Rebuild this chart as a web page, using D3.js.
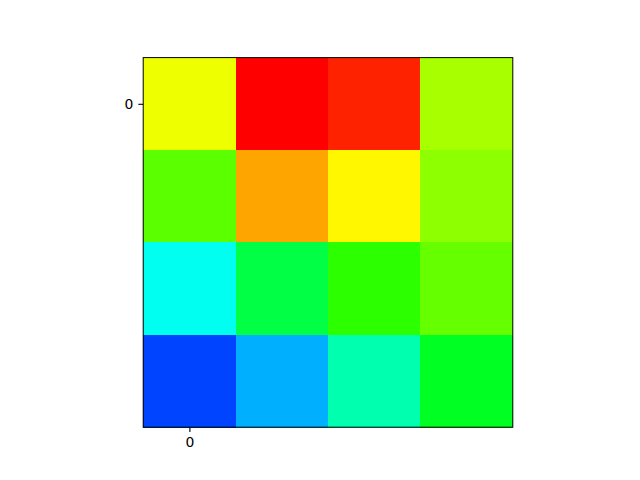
<!DOCTYPE html>
<html><head><meta charset="utf-8">
<script src="https://cdn.jsdelivr.net/npm/d3@7"></script>
<style>body{margin:0;background:#fff}</style>
</head><body>
<script>
// Cell values (rows top to bottom), mapped through a gist_rainbow-like colormap on [0,1]
const rows = [0, 1, 2, 3];
const cols = [0, 1, 2, 3];
const values = [
  [0.227, 0.030, 0.055, 0.278],
  [0.333, 0.150, 0.209, 0.298],
  [0.575, 0.450, 0.368, 0.326],
  [0.721, 0.643, 0.528, 0.425]
];
const xTicks = [0];
const yTicks = [0];
const cmapStops = [0.000, 0.030, 0.215, 0.400, 0.586, 0.770, 0.954, 1.000];
const cmapColors = ["rgb(255,0,41)", "rgb(255,0,0)", "rgb(255,255,0)", "rgb(0,255,0)",
                    "rgb(0,255,255)", "rgb(0,0,255)", "rgb(255,0,255)", "rgb(255,0,191)"];

const W = 640, H = 480;
const plotH = 369.6, plotW = 369.6;
const mLeft = (80 + 576) / 2 - plotW / 2, mTop = 57.6;

const svg = d3.select("body").append("svg").attr("width", W).attr("height", H)
  .style("font-family", "DejaVu Sans");

const x = d3.scaleBand().domain(cols).range([mLeft, mLeft + plotW]).padding(0);
const y = d3.scaleBand().domain(rows).range([mTop, mTop + plotH]).padding(0);
const color = d3.scaleLinear().domain(cmapStops).range(cmapColors).interpolate(d3.interpolateRgb).clamp(true);

const cells = [];
values.forEach((r, i) => r.forEach((v, j) => cells.push({ i, j, v })));

svg.append("g").selectAll("rect").data(cells).join("rect")
  .attr("x", d => x(d.j)).attr("y", d => y(d.i))
  .attr("width", x.bandwidth() + 0.5).attr("height", y.bandwidth() + 0.5)
  .attr("fill", d => color(d.v))
  .attr("shape-rendering", "crispEdges");

svg.append("rect").attr("x", mLeft).attr("y", mTop).attr("width", plotW).attr("height", plotH)
  .attr("fill", "none").attr("stroke", "#000").attr("stroke-width", 1);

const xAxis = d3.axisBottom(d3.scaleLinear().domain([-0.5, 3.5]).range([mLeft, mLeft + plotW]))
  .tickValues(xTicks).tickSize(4.9).tickPadding(4.9).tickFormat(d3.format("d"));
const gx = svg.append("g").attr("transform", `translate(0,${mTop + plotH})`).call(xAxis);
gx.select(".domain").remove();

const yAxis = d3.axisLeft(d3.scaleLinear().domain([-0.5, 3.5]).range([mTop, mTop + plotH]))
  .tickValues(yTicks).tickSize(4.9).tickPadding(4.9).tickFormat(d3.format("d"));
const gy = svg.append("g").attr("transform", `translate(${mLeft},0)`).call(yAxis);
gy.select(".domain").remove();

svg.selectAll(".tick text").attr("font-size", "13.9px").attr("font-family", "DejaVu Sans").attr("fill", "#000");
svg.selectAll(".tick line").attr("stroke", "#000").attr("stroke-width", 1.1);
</script>
</body></html>
